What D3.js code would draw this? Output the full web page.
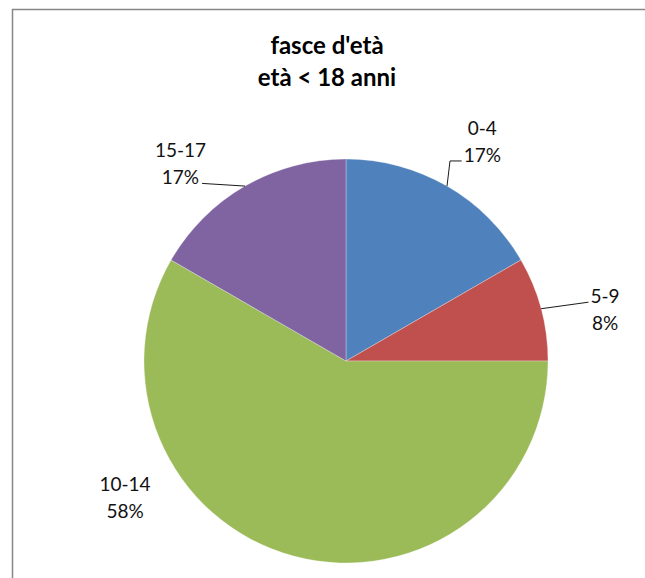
<!DOCTYPE html>
<html lang="it">
<head>
    <meta charset="UTF-8">
    <title>fasce d'età - età &lt; 18 anni</title>
    <script src="https://d3js.org/d3.v7.min.js"></script>
    <style>
        body { margin: 0; background: #fff; }
        svg { display: block; }
    </style>
</head>
<body>
    <svg width="645" height="578"></svg>

    <script>
        // Dati
        const categorie = ["0-4", "5-9", "10-14", "15-17"];
        const valori = [2, 1, 7, 2];
        const colori = ["#4F81BD", "#C0504D", "#9BBB59", "#8064A2"];
        const titolo = ["fasce d'età", "età < 18 anni"];

        // Posizione etichette (angolo in gradi da nord, distanza dal centro)
        const etichette = [
            { ang: 31.9, r: 258, leader: "elbow", lato: "left", riga: 1 },
            { ang: 78.9, r: 264, leader: "line", lato: "left", riga: 0 },
            { ang: 238.2, r: 260, leader: null },
            { ang: 319.9, r: 257, leader: "line", lato: "right", riga: 1 }
        ];

        const svg = d3.select("svg");
        const cx = 346, cy = 361, raggio = 202;
        const font = "Lato, 'Open Sans', sans-serif";

        // Bordo dell'area grafico
        svg.append("rect")
            .attr("x", 12.5)
            .attr("y", 9.5)
            .attr("width", 700)
            .attr("height", 700)
            .attr("fill", "none")
            .attr("stroke", "#878787")
            .attr("stroke-width", 1.5);

        // Titolo
        svg.append("text")
            .attr("x", 327)
            .attr("y", 54)
            .attr("text-anchor", "middle")
            .style("font-family", font)
            .style("font-weight", "bold")
            .style("font-size", "24px")
            .attr("fill", "#000")
            .selectAll("tspan")
            .data(titolo)
            .join("tspan")
            .attr("x", 327)
            .attr("dy", (d, i) => i === 0 ? 0 : 32)
            .text(d => d);

        const dati = categorie.map((c, i) => ({ cat: c, val: valori[i], col: colori[i] }));
        const totale = d3.sum(valori);

        const pie = d3.pie().sort(null).value(d => d.val);
        const arc = d3.arc().innerRadius(0).outerRadius(raggio);
        const archi = pie(dati);

        const g = svg.append("g").attr("transform", `translate(${cx},${cy})`);

        g.selectAll("path")
            .data(archi)
            .join("path")
            .attr("d", arc)
            .attr("fill", d => d.data.col)
            .attr("stroke", "#fff")
            .attr("stroke-width", 0.3);

        // Etichette con linee guida
        archi.forEach((a, i) => {
            const e = etichette[i];
            const rad = e.ang * Math.PI / 180;
            const lx = Math.sin(rad) * e.r;
            const ly = -Math.cos(rad) * e.r;
            const pct = Math.round(a.data.val / totale * 100) + "%";

            const t = g.append("text")
                .attr("text-anchor", "middle")
                .style("font-family", font)
                .style("font-size", "19px")
                .attr("fill", "#111");
            t.append("tspan").attr("x", lx).attr("y", ly - 7).text(a.data.cat);
            t.append("tspan").attr("x", lx).attr("y", ly + 20).text(pct);

            if (!e.leader) return;

            const mid = (a.startAngle + a.endAngle) / 2;
            const px = Math.sin(mid) * raggio;
            const py = -Math.cos(mid) * raggio;

            const riga = t.selectAll("tspan").nodes()[e.riga].getBBox();
            const ex = e.lato === "left" ? riga.x - 2 : riga.x + riga.width + 3;
            const ey = riga.y + riga.height - 5;

            const punti = e.leader === "elbow"
                ? [[px, py], [px + 3, ey], [ex, ey]]
                : [[px, py], [ex, ey]];

            g.append("path")
                .attr("d", d3.line()(punti))
                .attr("fill", "none")
                .attr("stroke", "#1a1a1a")
                .attr("stroke-width", 1);
        });
    </script>
</body>
</html>
